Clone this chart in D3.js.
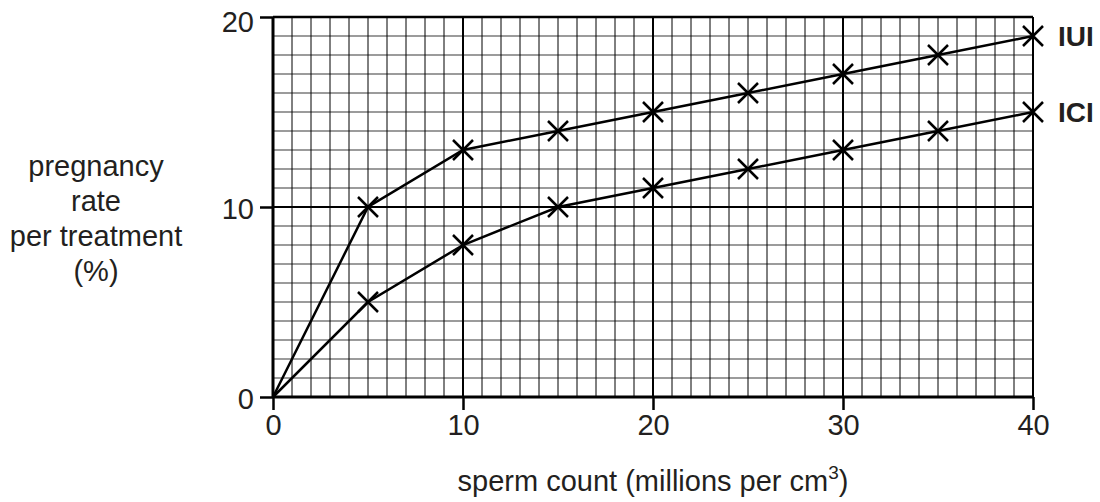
<!DOCTYPE html>
<html>
    <head>
        <meta charset="utf-8">
        <style>
            body { margin: 0; background: white; }
            text { font-family: "Liberation Sans", Arial, sans-serif; fill: #231f20; }
        </style>
    </head>
    <body>
        <div id="chart"></div>
    </body>
    <script src="https://d3js.org/d3.v7.min.js"></script>
    <script>
        const spermCount = [0, 5, 10, 15, 20, 25, 30, 35, 40];
        const iuiRate = [0, 10, 13, 14, 15, 16, 17, 18, 19];
        const iciRate = [0, 5, 8, 10, 11, 12, 13, 14, 15];
        const xTicks = [0, 10, 20, 30, 40];
        const yTicks = [0, 10, 20];
        const yTitleLines = ['pregnancy', 'rate', 'per treatment', '(%)'];

        const svgWidth = 1100;
        const svgHeight = 502;
        const marginLeft = 273, marginTop = 17, plotW = 760, plotH = 380;

        const svg = d3.select('#chart')
            .append('svg')
            .attr('width', svgWidth)
            .attr('height', svgHeight)

        const xScale = d3.scaleLinear().domain([0, 40]).range([marginLeft, marginLeft + plotW])
        const yScale = d3.scaleLinear().domain([0, 20]).range([marginTop + plotH, marginTop])

        // grid: horizontal grey lines first, vertical black lines over them
        const grid = svg.append('g')
        grid.selectAll('.hgrid')
            .data(d3.range(1, 20))
            .enter()
            .append('line')
            .attr('x1', xScale(0)).attr('x2', xScale(40))
            .attr('y1', d => yScale(d)).attr('y2', d => yScale(d))
            .attr('stroke', d => d % 10 === 0 ? '#000' : '#7a7a7a')
            .attr('stroke-width', d => d % 10 === 0 ? 2 : 1.6)

        grid.selectAll('.vgrid')
            .data(d3.range(1, 41))
            .enter()
            .append('line')
            .attr('x1', d => xScale(d)).attr('x2', d => xScale(d))
            .attr('y1', yScale(0)).attr('y2', yScale(20))
            .attr('stroke', '#000')
            .attr('stroke-width', d => d % 10 === 0 ? 2 : 1)

        // top border
        grid.append('line')
            .attr('x1', xScale(0)).attr('x2', xScale(40))
            .attr('y1', yScale(20)).attr('y2', yScale(20))
            .attr('stroke', '#000').attr('stroke-width', 2.5)

        // axes
        const xAxis = d3.axisBottom(xScale).tickValues(xTicks).tickSize(13).tickPadding(4)
        const yAxis = d3.axisLeft(yScale).tickValues(yTicks).tickSize(13).tickPadding(6)

        const gx = svg.append('g')
            .attr('transform', `translate(0, ${yScale(0)})`)
            .call(xAxis)
        const gy = svg.append('g')
            .attr('transform', `translate(${xScale(0)}, 0)`)
            .call(yAxis)

        gx.select('.domain').remove()
        gy.select('.domain').remove()
        svg.selectAll('.tick line').attr('stroke', '#000').attr('stroke-width', 2.5)
        svg.selectAll('.tick text')
            .style('font-family', '"Liberation Sans", Arial, sans-serif')
            .style('font-size', '29px')
            .attr('fill', '#231f20')
        gy.selectAll('.tick text').attr('dy', d => d === 20 ? '0.5em' : '0.38em')

        svg.append('line')
            .attr('x1', xScale(0)).attr('x2', xScale(40))
            .attr('y1', yScale(0)).attr('y2', yScale(0))
            .attr('stroke', '#000').attr('stroke-width', 3)
        svg.append('line')
            .attr('x1', xScale(0)).attr('x2', xScale(0))
            .attr('y1', yScale(0)).attr('y2', yScale(20))
            .attr('stroke', '#000').attr('stroke-width', 3)

        // series
        const line = d3.line()
            .x(d => xScale(d[0]))
            .y(d => yScale(d[1]))

        const series = [
            { name: 'IUI', values: spermCount.map((x, i) => [x, iuiRate[i]]) },
            { name: 'ICI', values: spermCount.map((x, i) => [x, iciRate[i]]) }
        ]

        const s = 10;
        series.forEach(ser => {
            svg.append('path')
                .datum(ser.values)
                .attr('d', line)
                .attr('fill', 'none')
                .attr('stroke', '#000')
                .attr('stroke-width', 2.5)

            svg.append('g')
                .selectAll('path')
                .data(ser.values.filter(d => d[0] > 0))
                .enter()
                .append('path')
                .attr('d', d => {
                    const cx = xScale(d[0]), cy = yScale(d[1]);
                    return `M${cx - s},${cy - s}L${cx + s},${cy + s}M${cx - s},${cy + s}L${cx + s},${cy - s}`;
                })
                .attr('stroke', '#000')
                .attr('stroke-width', 2.5)

            const last = ser.values[ser.values.length - 1]
            svg.append('text')
                .attr('x', xScale(last[0]) + 25)
                .attr('y', yScale(last[1]))
                .attr('dy', '0.36em')
                .style('font-size', '28px')
                .style('font-weight', 'bold')
                .text(ser.name)
        })

        // axis titles
        const xTitle = svg.append('text')
            .attr('x', (xScale(0) + xScale(40)) / 2)
            .attr('y', 491)
            .attr('text-anchor', 'middle')
            .style('font-size', '29px')
        xTitle.append('tspan').text('sperm count (millions per cm')
        xTitle.append('tspan').attr('dy', -12).style('font-size', '19px').text('3')
        xTitle.append('tspan').attr('dy', 12).text(')')

        svg.append('g')
            .selectAll('text')
            .data(yTitleLines)
            .enter()
            .append('text')
            .attr('x', 96)
            .attr('y', (d, i) => 176 + i * 35)
            .attr('text-anchor', 'middle')
            .style('font-size', '29px')
            .text(d => d)
    </script>
</html>
